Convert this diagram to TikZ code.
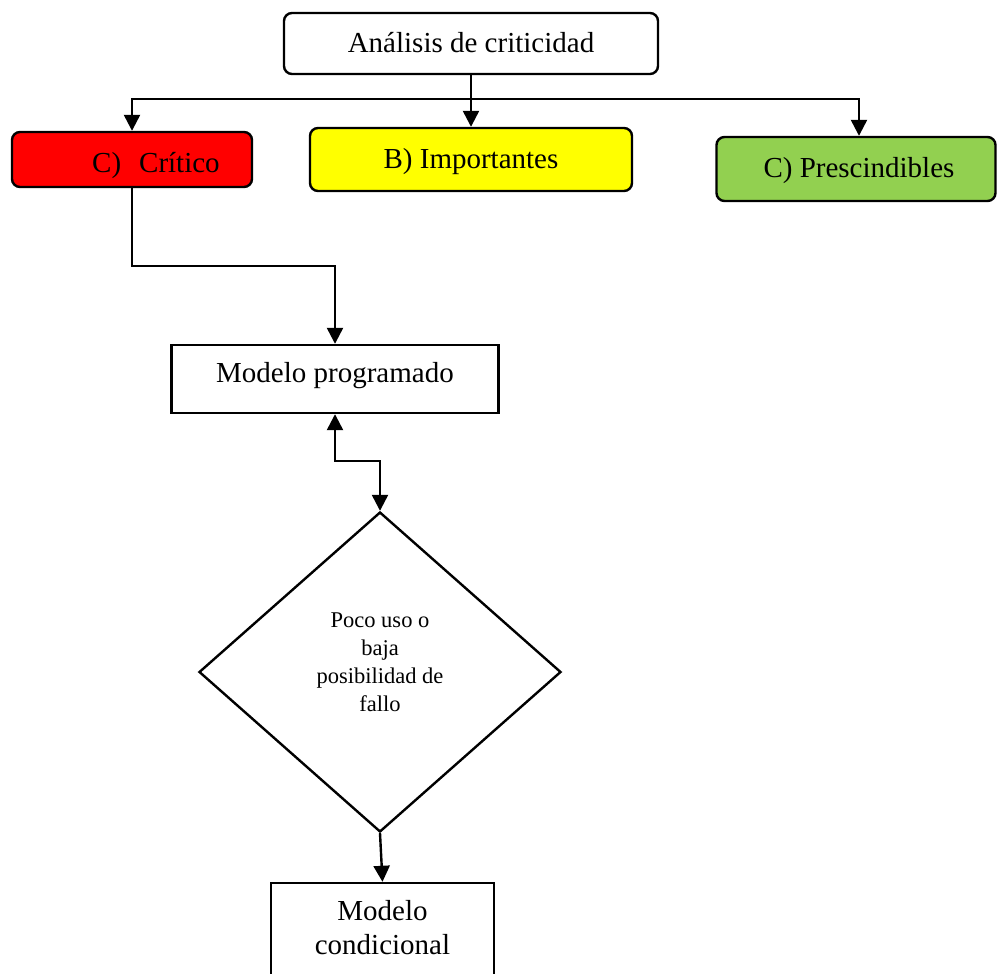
\documentclass[tikz,border=0pt]{standalone}
\usepackage{fontspec}
\setmainfont{Liberation Serif}
\usetikzlibrary{arrows.meta,shapes.geometric}
\definecolor{critred}{HTML}{FF0000}
\definecolor{impyellow}{HTML}{FFFF00}
\definecolor{presgreen}{HTML}{92D050}
\begin{document}
\begin{tikzpicture}[x=1pt,y=-1pt,
  boxline/.style={draw=black,line width=2.4pt,inner sep=0pt},
  roundbox/.style={boxline,rectangle,rounded corners=8pt},
  sqbox/.style={boxline,rectangle},
  bigtext/.style={font=\fontsize{29}{34}\selectfont,inner sep=0pt},
  smalltext/.style={font=\fontsize{22.5}{28}\selectfont,inner sep=0pt,align=center},
  conn/.style={line width=2.4pt,-{Triangle[length=16pt,width=16pt]}},
  dconn/.style={line width=2.4pt,{Triangle[length=16pt,width=16pt]}-{Triangle[length=16pt,width=16pt]}}]
\useasboundingbox (0,0) rectangle (997,974);

% level 1: root
\node[roundbox,minimum width=374pt,minimum height=61pt] (root) at (471,43.5) {};
\node[bigtext,anchor=base] (roottxt) at (471,53) {Análisis de criticidad};

% level 2: categories
\node[roundbox,fill=critred,minimum width=240pt,minimum height=55pt] (crit) at (132,159.5) {};
\node[bigtext,anchor=base west] (crittxt) at (92,172) {C)\hspace{18pt}Crítico};

\node[roundbox,fill=impyellow,minimum width=322pt,minimum height=63pt] (imp) at (471,159.5) {};
\node[bigtext,anchor=base] (imptxt) at (471,168) {B) Importantes};

\node[roundbox,fill=presgreen,minimum width=279pt,minimum height=64pt] (pres) at (856,169) {};
\node[bigtext,anchor=base] (prestxt) at (859,177) {C) Prescindibles};

% programmed model
\node[sqbox,minimum width=327pt,minimum height=68pt] (prog) at (335,379) {};
\node[bigtext,anchor=base] (progtxt) at (335,382) {Modelo programado};

% decision
\node[boxline,diamond,minimum width=362pt,minimum height=320pt] (dec) at (380,672) {};
\node[smalltext,anchor=base] (dectxt) at (380,711) {Poco uso o\\baja\\posibilidad de\\fallo};

% conditional model (runs past the lower edge)
\node[sqbox,minimum width=223pt,minimum height=110pt] (cond) at (382.5,938) {};
\node[bigtext,anchor=base,align=center] (condtxt) at (382.5,954) {Modelo\\condicional};

% connectors
\coordinate (split) at (471,99);
\draw[conn] (root.south) -- (imp.north);
\draw[conn] (split) -| (crit.north);
\draw[conn] (split) -| ([xshift=3pt]pres.north);
\draw[conn] (crit.south) -- (crit.south |- 0,266) -| (prog.north);
\draw[dconn] (prog.south) -- (prog.south |- 0,461) -| (dec.north);
\draw[conn] (dec.south) -- (cond.north);
\end{tikzpicture}
\end{document}
